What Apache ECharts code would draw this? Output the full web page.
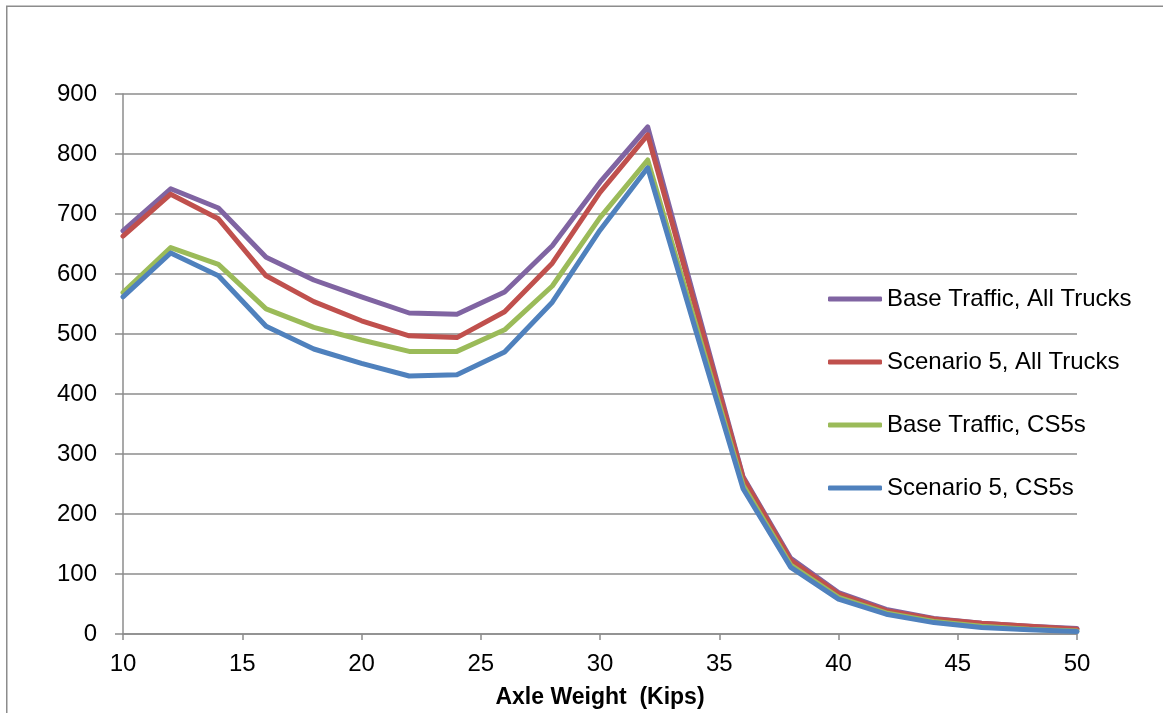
<!DOCTYPE html>
<html>
<head>
<meta charset="utf-8">
<script src="https://cdn.jsdelivr.net/npm/echarts@6/dist/echarts.min.js"></script>
<style>
html,body{margin:0;padding:0;background:#fff;}
#chart{width:1163px;height:713px;}
</style>
</head>
<body>
<div id="chart"></div>
<script>
const axleWeight = [10,12,14,16,18,20,22,24,26,28,30,32,34,36,38,40,42,44,46,48,50];
const baseAllTrucks = [672,742,710,628,590,562,535,533,570,647,753,845,553,262,126,69,41,26,18,13,9];
const scen5AllTrucks = [663,733,692,597,554,522,497,494,537,618,736,832,545,260,123,67,39,25,18,13,8];
const baseCS5s = [569,644,616,542,511,490,471,471,507,580,694,790,518,248,115,61,35,21,13,8,5];
const scen5CS5s = [562,635,597,513,475,451,430,432,470,553,673,777,508,242,111,58,33,19,11,7,4];
const seriesNames = ['Base Traffic, All Trucks','Scenario 5, All Trucks','Base Traffic, CS5s','Scenario 5, CS5s'];
const seriesColors = ['#8064A2','#C0504D','#9BBB59','#4F81BD'];
const xTitle = 'Axle Weight  (Kips)';

const allValues = [baseAllTrucks, scen5AllTrucks, baseCS5s, scen5CS5s];
const FONT = '"Liberation Sans", Arial, sans-serif';

const chart = echarts.init(document.getElementById('chart'), null, {renderer:'canvas'});
chart.setOption({
  animation:false,
  backgroundColor:'#fff',
  graphic:[{
    type:'rect', z:-1,
    shape:{x:6.75,y:6.25,width:1300,height:900},
    style:{fill:'none', stroke:'#8c8c8c', lineWidth:1.5}
  }],
  grid:{left:123, right:86, top:94, bottom:79, containLabel:false, outerBoundsMode:'none'},
  legend:{
    orient:'vertical', left:828, top:287, padding:0,
    itemWidth:54, itemHeight:5, itemGap:39, icon:'roundRect',
    textStyle:{fontFamily:FONT, fontSize:24, color:'#000'},
    data:seriesNames
  },
  xAxis:{
    type:'value', min:10, max:50, interval:5,
    name:xTitle, nameLocation:'middle', nameGap:52,
    nameTextStyle:{fontFamily:FONT, fontSize:23, fontWeight:'bold', color:'#000'},
    axisLine:{show:true, lineStyle:{color:'#8c8c8c', width:1.5}},
    axisTick:{show:true, length:6, lineStyle:{color:'#8c8c8c', width:1.5}},
    axisLabel:{fontFamily:FONT, fontSize:24, color:'#000', margin:18},
    splitLine:{show:false}
  },
  yAxis:{
    type:'value', min:0, max:900, interval:100,
    axisLine:{show:true, lineStyle:{color:'#8c8c8c', width:1.5}},
    axisTick:{show:true, length:8, lineStyle:{color:'#8c8c8c', width:1.5}},
    axisLabel:{fontFamily:FONT, fontSize:24, color:'#000', margin:26},
    splitLine:{show:true, lineStyle:{color:'#8c8c8c', width:1.5}}
  },
  series: seriesNames.map((n,i)=>({
    name:n, type:'line', symbol:'none', smooth:false,
    color:seriesColors[i],
    lineStyle:{width:5, color:seriesColors[i], join:'round', cap:'round'},
    data: axleWeight.map((x,k)=>[x, allValues[i][k]])
  }))
});
</script>
</body>
</html>
